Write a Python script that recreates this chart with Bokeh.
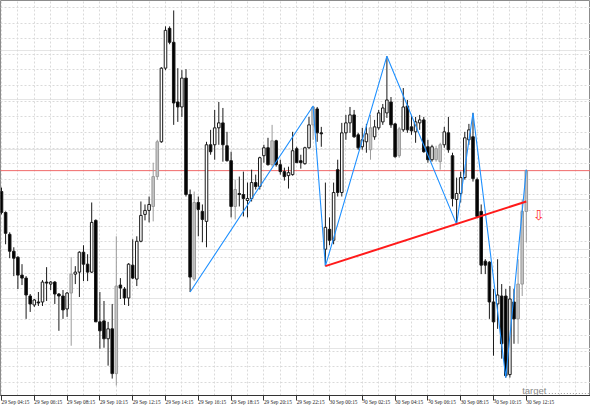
from bokeh.plotting import figure
from bokeh.models import Range1d, FixedTicker, ColumnDataSource, Grid
from bokeh.embed import file_html
from bokeh.resources import INLINE
from bokeh.core.properties import value
import numpy as np

# ---- data (M15 bars, price in points) ----
bar = list(range(129))
open_ = [208,187,165,148,142,124,121,103,94,97,97,117,115,117,105,103,90,106,125,127,
         147,135,127,179,77,78,60,70,25,114,110,101,134,120,158,185,189,193,223,258,
         332,372,358,298,293,322,205,120,197,188,178,255,255,272,277,254,239,193,206,205,
         199,201,217,213,244,252,235,259,235,228,224,225,251,239,236,252,275,291,267,150,
         170,159,230,207,267,277,285,265,253,258,250,263,272,278,287,298,276,244,270,294,
         273,268,277,280,253,240,240,238,255,267,244,200,206,222,260,263,220,188,138,137,
         97,95,103,103,24,97,80,115,188]
high = [212,188,167,152,143,135,123,105,100,107,119,132,118,118,106,109,107,142,133,148,
        154,145,197,180,107,98,77,95,163,121,112,136,160,163,198,195,203,237,260,333,
        374,374,390,332,330,331,210,208,203,195,258,270,290,298,292,268,248,220,223,228,
        217,230,225,243,255,262,275,260,240,232,233,268,253,245,253,283,294,293,273,217,
        182,217,240,277,285,293,290,267,272,276,285,280,290,296,344,303,277,273,312,300,
        285,283,285,283,260,255,254,257,273,283,247,222,228,268,276,287,222,195,140,138,
        110,140,115,110,113,110,140,200,230]
low = [185,155,141,123,110,114,80,87,92,93,93,98,109,95,68,80,82,53,115,102,
       118,118,126,77,50,51,33,20,13,100,94,93,120,113,157,179,177,178,220,257,
       330,356,275,278,283,203,107,118,163,157,152,245,240,255,238,238,182,180,193,183,
       182,198,210,210,237,234,233,233,225,219,211,224,237,231,235,251,260,258,253,133,
       154,155,203,203,260,267,262,250,250,247,240,260,270,275,282,272,242,242,268,267,
       265,257,270,247,237,238,238,230,252,247,193,175,197,220,255,218,182,125,125,80,
       43,70,40,21,21,55,55,103,157]
close = [187,166,148,141,124,121,104,95,99,96,117,116,117,105,103,89,106,125,127,147,
         135,127,177,77,68,60,70,25,113,111,101,135,121,158,184,189,195,223,258,332,
         370,358,297,293,322,205,122,197,190,180,255,248,272,277,255,239,193,210,205,201,
         201,217,213,242,252,235,259,235,228,223,227,249,237,237,252,275,293,267,266,172,
         159,207,207,267,277,285,263,252,260,266,272,273,287,292,300,275,243,271,293,270,
         269,278,280,248,240,253,251,255,268,250,201,206,222,262,270,221,183,134,134,97,
         77,104,55,23,100,80,115,188,229]
kind = ["down","down","down","down","down","down","down","down","up","down",
        "up","down","up","down","down","down","up","gray","up","up",
        "down","down","up","down","down","down","up","down","gray","down",
        "down","up","down","up","up","up","up","gray","gray","up",
        "up","down","down","down","up","down","down","gray","down","down",
        "up","down","up","up","down","down","down","gray","down","down",
        "up","up","down","up","up","down","gray","down","down","down",
        "up","up","down","down","up","up","gray","down","down","up",
        "down","up","down","up","up","up","down","down","up","up",
        "gray","up","up","up","up","down","down","gray","up","down",
        "down","up","up","down","down","up","gray","gray","up","down",
        "down","up","up","up","up","down","down","down","down","down",
        "down","up","down","down","up","down","gray","gray","gray"]

tick_bars = [0, 8, 16, 24, 32, 40, 48, 56, 64, 72, 80, 88, 96, 104, 112, 120, 128]
tick_labels = ["29 Sep 04:15", "29 Sep 06:15", "29 Sep 08:15", "29 Sep 10:15",
               "29 Sep 12:15", "29 Sep 14:15", "29 Sep 16:15", "29 Sep 18:15",
               "29 Sep 20:15", "29 Sep 22:15", "30 Sep 00:15", "30 Sep 02:15",
               "30 Sep 04:15", "30 Sep 06:15", "30 Sep 08:15", "30 Sep 10:15",
               "30 Sep 12:15"]

zig_bar = [46, 76, 79, 94, 111, 115, 123, 128]
zig_price = [107, 294, 133, 344, 175, 287, 21, 230]

neck_bar = [79, 128]
neck_price = [133, 198]

resistance_price = 229
signal_bar = 131
signal_price = 184
target_price = 5
target_label_bar = 127.0

# ---- derived drawing columns ----
body_fill = {"up": "white", "down": "black", "gray": "#c4c4c4"}
body_line = {"up": "#1a1a1a", "down": "#1a1a1a", "gray": "#9a9a9a"}
src = ColumnDataSource(dict(
    x=bar, high=high, low=low,
    top=[max(o, c) for o, c in zip(open_, close)],
    bottom=[min(o, c) for o, c in zip(open_, close)],
    fill=[body_fill[k] for k in kind],
    line=[body_line[k] for k in kind],
))

p = figure(width=590, height=410, output_backend="svg", toolbar_location=None,
           x_range=Range1d(-0.244, 143.66), y_range=Range1d(3, 400),
           y_axis_location=None, min_border_left=0, min_border_right=0,
           min_border_top=0, min_border_bottom=13)
p.background_fill_color = "white"
p.border_fill_color = "white"
p.outline_line_color = "#8c8c8c"

# grids
for g in p.xgrid:
    g.visible = False
hour_ticks = list(range(-4, 148, 4))
price_grid = list(393 - 15.7 * np.arange(0, 26))
p.add_layout(Grid(dimension=0, ticker=FixedTicker(ticks=hour_ticks),
                  grid_line_color="#dadada", grid_line_dash="2 2"))
p.add_layout(Grid(dimension=1, ticker=FixedTicker(ticks=price_grid),
                  grid_line_color="#dadada", grid_line_dash="2 2"))

# x axis
ax = p.xaxis[0]
ax.ticker = FixedTicker(ticks=tick_bars)
ax.major_label_overrides = {b: " " + t for b, t in zip(tick_bars, tick_labels)}
ax.major_label_orientation = -0.0001
ax.major_label_text_font = "Liberation Sans Narrow"
ax.major_label_text_font_size = "5.3px"
ax.major_label_text_color = "#222222"
ax.major_label_standoff = 1
ax.major_tick_out = 5
ax.major_tick_in = 0
ax.minor_tick_out = 0
ax.minor_tick_in = 0
ax.axis_line_color = "#333333"
ax.major_tick_line_color = "#333333"

# resistance line
p.line([-1, 150], [resistance_price, resistance_price], line_color="#f06a6a", line_width=1)

# candles
p.segment(x0="x", y0="low", x1="x", y1="high", source=src, line_color="line", line_width=1)
p.vbar(x="x", top="top", bottom="bottom", width=0.62, source=src,
       fill_color="fill", line_color="line", line_width=1)

# zigzag + neckline
p.line(zig_bar, zig_price, line_color="#1e90ff", line_width=1.1)
p.line(neck_bar, neck_price, line_color="#ff1a1a", line_width=2)

# sell arrow
p.text(x=[signal_bar], y=[signal_price], text=["\u21e9"], text_color="#ff3030",
       text_font=value("DejaVu Sans"), text_font_size="14px",
       text_align="center", text_baseline="middle")

# target label + dotted level
p.text(x=[target_label_bar], y=[8], text=["target"], text_color="#8a8a8a",
       text_font=value("Liberation Sans"), text_font_size="9.5px",
       text_align="left", text_baseline="alphabetic")
p.line([133.5, 150], [target_price, target_price], line_color="#9a9a9a", line_dash="1 2", line_width=1)

open("out.html", "w").write(file_html(p, INLINE))
